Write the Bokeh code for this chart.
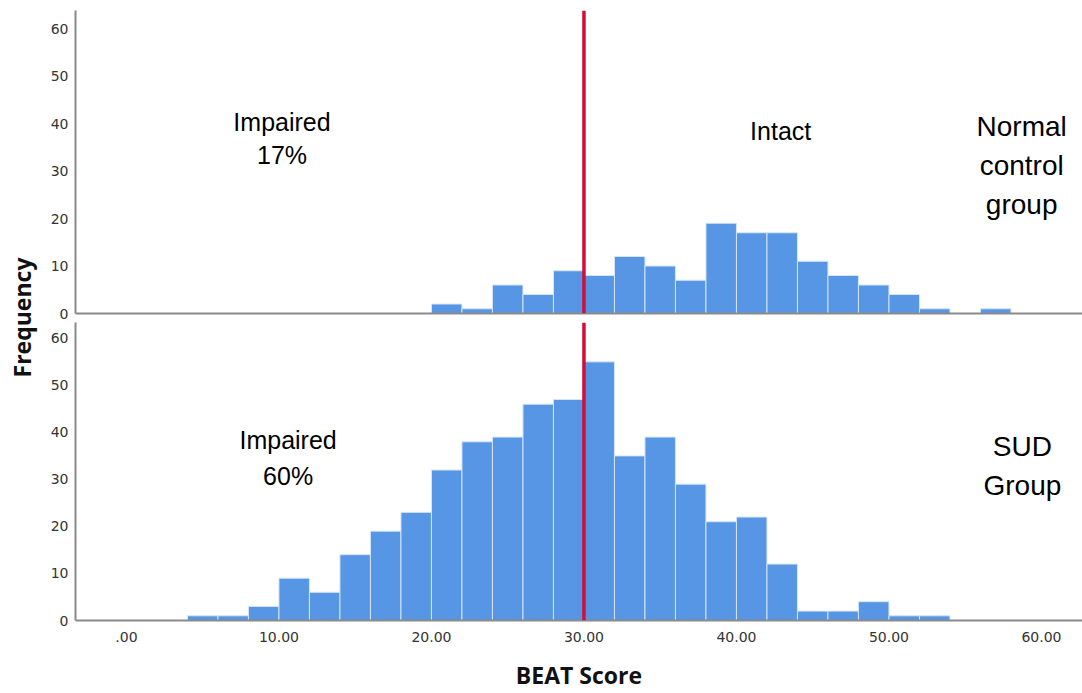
import math
from bokeh.plotting import figure
from bokeh.layouts import row, column
from bokeh.models import Span, Label, FixedTicker, Range1d
from bokeh.embed import file_html
from bokeh.resources import INLINE

# ---------------- data ----------------
bin_width = 2
ctrl_bin_left = [20, 22, 24, 26, 28, 30, 32, 34, 36, 38, 40, 42, 44, 46, 48, 50, 52, 54, 56]
ctrl_counts = [2, 1, 6, 4, 9, 8, 12, 10, 7, 19, 17, 17, 11, 8, 6, 4, 1, 0, 1]

sud_bin_left = [4, 6, 8, 10, 12, 14, 16, 18, 20, 22, 24, 26, 28, 30, 32, 34, 36, 38, 40, 42, 44, 46, 48, 50, 52]
sud_counts = [1, 1, 3, 9, 6, 14, 19, 23, 32, 38, 39, 46, 47, 55, 35, 39, 29, 21, 22, 12, 2, 2, 4, 1, 1]

x_ticks = [0, 10, 20, 30, 40, 50, 60]
x_tick_labels = [".00", "10.00", "20.00", "30.00", "40.00", "50.00", "60.00"]
y_ticks = [0, 10, 20, 30, 40, 50, 60]
cutoff = 30

# ---------------- styling ----------------
BAR = "#5796e4"
BAR_EDGE = "#d6e5f8"
RED = "#d20f3c"
AXIS = "#8a8a8a"
TICK_FONT = "DejaVu Sans"
ANN_FONT = "Liberation Sans"
LAB_FONT = "Open Sans"

x_range = Range1d(-3.34, 62.69)


def make_panel(height, border_top, border_bottom, y_end, lefts, counts, bottom_axis):
    p = figure(width=1044, height=height, x_range=x_range, y_range=Range1d(0, y_end),
               output_backend="svg", toolbar_location=None,
               min_border_left=37, min_border_right=0,
               min_border_top=border_top, min_border_bottom=border_bottom)
    p.outline_line_color = None
    p.grid.visible = False
    p.background_fill_color = "white"

    rights = [l + bin_width for l in lefts]
    p.quad(left=lefts, right=rights, top=counts, bottom=0,
           fill_color=BAR, line_color=BAR_EDGE, line_width=1)

    p.add_layout(Span(location=cutoff, dimension="height", line_color=RED, line_width=3.5))

    ya = p.yaxis[0]
    ya.ticker = FixedTicker(ticks=y_ticks)
    ya.major_tick_out = 0
    ya.major_tick_in = 0
    ya.minor_tick_out = 0
    ya.minor_tick_in = 0
    ya.axis_line_color = AXIS
    ya.axis_line_width = 2
    ya.major_label_standoff = 7
    ya.major_label_text_font = TICK_FONT
    ya.major_label_text_font_size = "14px"
    ya.major_label_text_color = "#333333"

    xa = p.xaxis[0]
    xa.axis_line_color = AXIS
    xa.axis_line_width = 2
    xa.major_tick_out = 0
    xa.major_tick_in = 0
    xa.minor_tick_out = 0
    xa.minor_tick_in = 0
    if bottom_axis:
        xa.ticker = FixedTicker(ticks=x_ticks)
        xa.major_label_overrides = {t: lab for t, lab in zip(x_ticks, x_tick_labels)}
        xa.major_label_standoff = 11
        xa.major_label_text_font = TICK_FONT
        xa.major_label_text_font_size = "14px"
        xa.major_label_text_color = "#333333"
        xa.axis_label = "BEAT Score"
        xa.axis_label_text_font = LAB_FONT
        xa.axis_label_text_font_style = "bold"
        xa.axis_label_text_font_size = "23px"
        xa.axis_label_text_color = "#111111"
        xa.axis_label_standoff = 14
    else:
        xa.ticker = FixedTicker(ticks=[])
        xa.major_label_standoff = 0
        xa.major_label_text_font_size = "0px"
    return p


def add_text(p, x, y, text, size):
    p.add_layout(Label(x=x, y=y, text=text, text_align="center", text_baseline="middle",
                       text_font=ANN_FONT, text_font_size=size, text_color="#000000"))


top = make_panel(322, 10, 9, 63.8, ctrl_bin_left, ctrl_counts, False)
bottom = make_panel(371, 0, 70, 63.37, sud_bin_left, sud_counts, True)

add_text(top, 10.2, 40.4, "Impaired", "25px")
add_text(top, 10.2, 33.3, "17%", "25px")
add_text(top, 42.9, 38.5, "Intact", "25px")
add_text(top, 58.7, 39.4, "Normal", "28px")
add_text(top, 58.7, 31.2, "control", "28px")
add_text(top, 58.7, 22.9, "group", "28px")

add_text(bottom, 10.6, 38.3, "Impaired", "25px")
add_text(bottom, 10.6, 30.7, "60%", "25px")
add_text(bottom, 58.75, 37.1, "SUD", "28px")
add_text(bottom, 58.75, 28.8, "Group", "28px")

# left strip carrying the shared y-axis title
lab = figure(width=38, height=693, x_range=Range1d(0, 38), y_range=Range1d(0, 693),
             output_backend="svg", toolbar_location=None,
             x_axis_location=None, y_axis_location=None, min_border=0)
lab.outline_line_color = None
lab.grid.visible = False
lab.add_layout(Label(x=21, y=376, text="Frequency", angle=math.pi / 2,
                     text_align="center", text_baseline="middle",
                     text_font=LAB_FONT, text_font_style="bold",
                     text_font_size="23px", text_color="#111111"))

layout = row(lab, column(top, bottom, spacing=0), spacing=0)

open("out.html", "w").write(file_html(layout, INLINE))
